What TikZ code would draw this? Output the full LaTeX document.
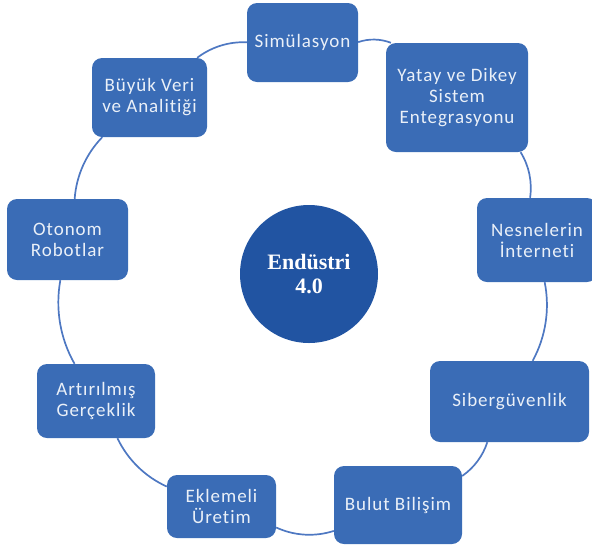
\documentclass[tikz,border=0pt]{standalone}
\usepackage{fontspec}
\setmainfont{Carlito}[Ligatures=NoCommon,LetterSpace=5]
\newfontfamily\serifbold{Liberation Serif}
\definecolor{boxblue}{HTML}{3A6CB6}
\definecolor{hubblue}{HTML}{2154A2}
\definecolor{ringblue}{HTML}{4E78C2}
\definecolor{boxtext}{HTML}{EAF0F8}
\begin{document}
\begin{tikzpicture}[x=1pt,y=-1pt,
  item/.style={rectangle, rounded corners=10pt, fill=boxblue, draw=none,
    inner sep=0pt, align=center, text=boxtext,
    font=\fontsize{19}{21}\selectfont},
  hub/.style={circle, fill=hubblue, draw=none, minimum size=138pt, inner sep=0pt,
    align=center, text=white, font=\serifbold\bfseries\fontsize{22}{24}\selectfont},
  ring/.style={draw=ringblue, line width=1.7pt, looseness=0.88}
]
\useasboundingbox (0,0) rectangle (592,547);

\node[hub] (hub) at (309,274) {Endüstri\\4.0};

\node[item, minimum width=111pt, minimum height=79pt] (sim) at (302.5,42.5) {Simülasyon};
\node[item, minimum width=142pt, minimum height=109pt] (yat) at (457,97.5) {Yatay ve Dikey\\Sistem\\Entegrasyonu};
\node[item, minimum width=120pt, minimum height=84pt] (nes) at (537,240) {Nesnelerin\\İnterneti};
\node[item, minimum width=159pt, minimum height=81pt] (sib) at (509.5,401.5) {Sibergüvenlik};
\node[item, minimum width=128pt, minimum height=78pt] (bul) at (398,505) {Bulut Bilişim};
\node[item, minimum width=109pt, minimum height=63pt] (ekl) at (221.5,506.5) {Eklemeli\\Üretim};
\node[item, minimum width=118pt, minimum height=74pt] (art) at (96,401) {Artırılmış\\Gerçeklik};
\node[item, minimum width=121pt, minimum height=81pt] (oto) at (67.5,239.5) {Otonom\\Robotlar};
\node[item, minimum width=115pt, minimum height=79pt] (buy) at (149.5,97.5) {Büyük Veri\\ve Analitiği};

\draw[ring] (sim) to[bend left=20] (yat);
\draw[ring] (yat) to[bend left=20] (nes);
\draw[ring] (nes) to[bend left=20] (sib);
\draw[ring] (sib) to[bend left=18.5] (bul);
\draw[ring] (bul) to[bend left=21.5] (ekl);
\draw[ring] (ekl) to[bend left=20] (art);
\draw[ring] (art) to[bend left=20] (oto);
\draw[ring] (oto) to[bend left=20] (buy);
\draw[ring] (buy) to[bend left=20] (sim);
\end{tikzpicture}
\end{document}
